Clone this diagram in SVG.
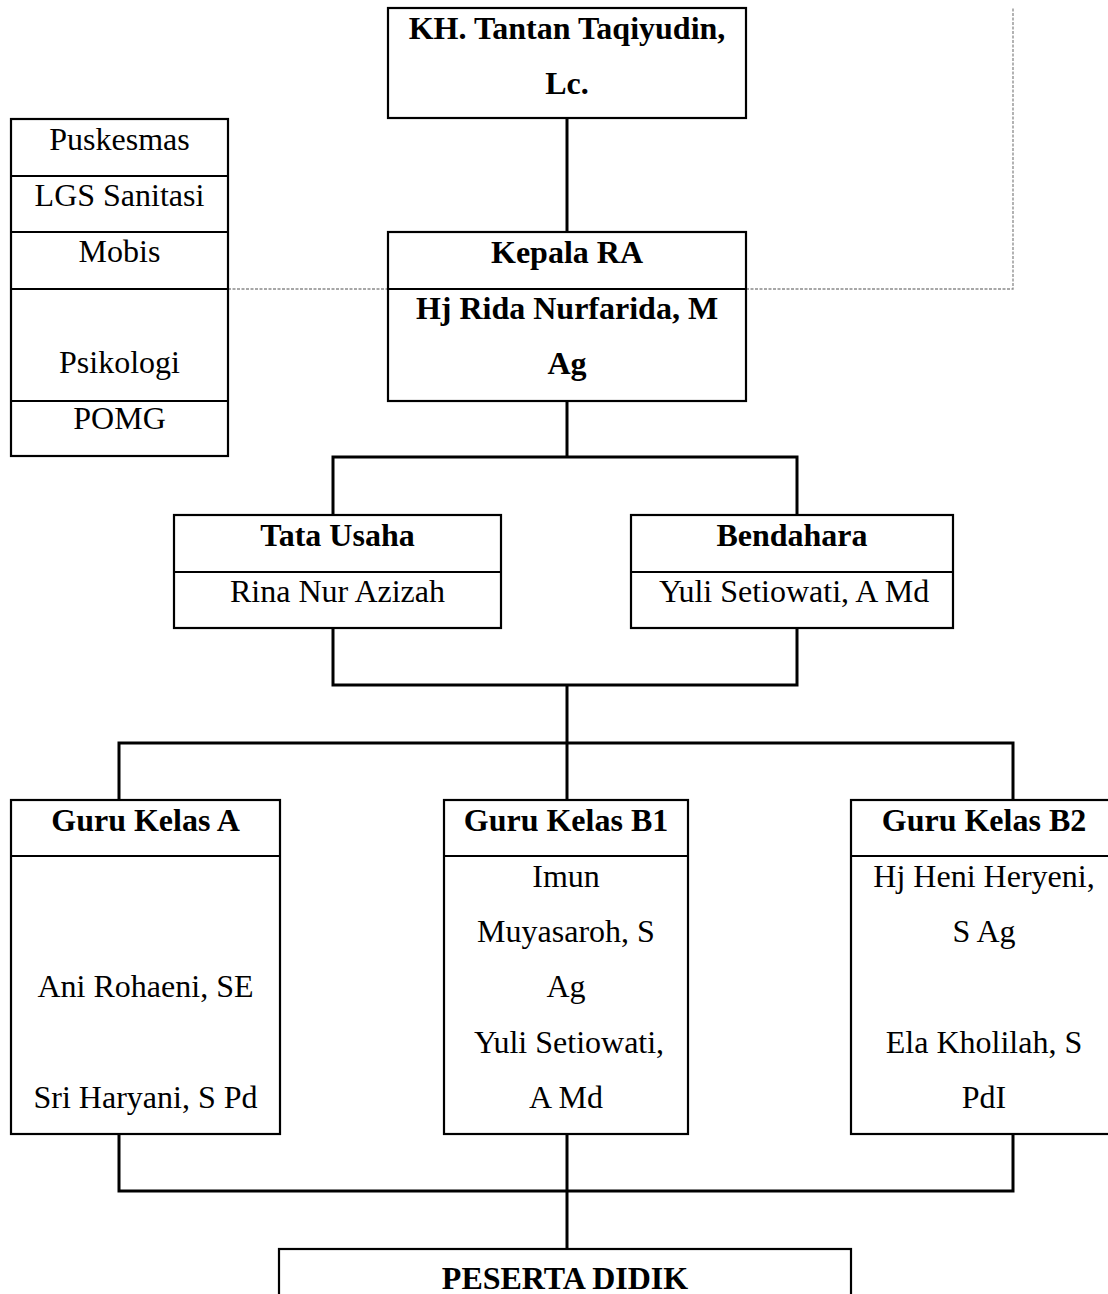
<svg xmlns="http://www.w3.org/2000/svg" width="1108" height="1294" viewBox="0 0 1108 1294">
<style>
.box{fill:#fff;stroke:#000;stroke-width:2.2}
.div{stroke:#000;stroke-width:2.2}
.con{fill:none;stroke:#000;stroke-width:3}
.dot{fill:none;stroke:#8a8a8a;stroke-width:1.3;stroke-dasharray:3 1.5}
text{font-family:"Liberation Serif","Times New Roman",serif;font-size:32px;fill:#000;text-anchor:middle}
.b{font-weight:bold}
</style>
<rect width="1108" height="1294" fill="#fff"/>
<g id="connectors">
<path class="dot" d="M228 289H387M746 289H1013V8"/>
<path class="con" d="M567 118V232"/>
<path class="con" d="M567 401V457M333 515V457H797V515"/>
<path class="con" d="M333 628V685H797V628M567 685V743"/>
<path class="con" d="M119 800V743H1013V800M567 743V800"/>
<path class="con" d="M119 1134V1191H1013V1134M567 1134V1249"/>
</g>
<g id="ketua">
<rect class="box" x="388" y="8" width="358" height="110"/>
<text class="b" x="567" y="39">KH. Tantan Taqiyudin,</text>
<text class="b" x="567" y="94">Lc.</text>
</g>
<g id="mitra">
<rect class="box" x="11" y="119" width="217" height="337"/>
<line class="div" x1="11" y1="176" x2="228" y2="176"/>
<line class="div" x1="11" y1="232" x2="228" y2="232"/>
<line class="div" x1="11" y1="289" x2="228" y2="289"/>
<line class="div" x1="11" y1="401" x2="228" y2="401"/>
<text x="119.5" y="150">Puskesmas</text>
<text x="119.5" y="206">LGS Sanitasi</text>
<text x="119.5" y="262">Mobis</text>
<text x="119.5" y="373">Psikologi</text>
<text x="119.5" y="429">POMG</text>
</g>
<g id="kepala">
<rect class="box" x="388" y="232" width="358" height="169"/>
<line class="div" x1="388" y1="289" x2="746" y2="289"/>
<text class="b" x="567" y="263">Kepala RA</text>
<text class="b" x="567" y="319">Hj Rida Nurfarida, M</text>
<text class="b" x="567" y="374">Ag</text>
</g>
<g id="tata-usaha">
<rect class="box" x="174" y="515" width="327" height="113"/>
<line class="div" x1="174" y1="572" x2="501" y2="572"/>
<text class="b" x="337.5" y="546">Tata Usaha</text>
<text x="337.5" y="602">Rina Nur Azizah</text>
</g>
<g id="bendahara">
<rect class="box" x="631" y="515" width="322" height="113"/>
<line class="div" x1="631" y1="572" x2="953" y2="572"/>
<text class="b" x="792" y="546">Bendahara</text>
<text x="794" y="602">Yuli Setiowati, A Md</text>
</g>
<g id="guru-a">
<rect class="box" x="11" y="800" width="269" height="334"/>
<line class="div" x1="11" y1="856" x2="280" y2="856"/>
<text class="b" x="145.5" y="831">Guru Kelas A</text>
<text x="145.5" y="997">Ani Rohaeni, SE</text>
<text x="145.5" y="1108">Sri Haryani, S Pd</text>
</g>
<g id="guru-b1">
<rect class="box" x="444" y="800" width="244" height="334"/>
<line class="div" x1="444" y1="856" x2="688" y2="856"/>
<text class="b" x="566" y="831">Guru Kelas B1</text>
<text x="566" y="887">Imun</text>
<text x="566" y="942">Muyasaroh, S</text>
<text x="566" y="997">Ag</text>
<text x="569" y="1053">Yuli Setiowati,</text>
<text x="566" y="1108">A Md</text>
</g>
<g id="guru-b2">
<rect class="box" x="851" y="800" width="270" height="334"/>
<line class="div" x1="851" y1="856" x2="1121" y2="856"/>
<text class="b" x="984" y="831">Guru Kelas B2</text>
<text x="984" y="887">Hj Heni Heryeni,</text>
<text x="984" y="942">S Ag</text>
<text x="984" y="1053">Ela Kholilah, S</text>
<text x="984" y="1108">PdI</text>
</g>
<g id="peserta-didik">
<rect class="box" x="279" y="1249" width="572" height="80"/>
<text class="b" x="565" y="1289">PESERTA DIDIK</text>
</g>
</svg>
